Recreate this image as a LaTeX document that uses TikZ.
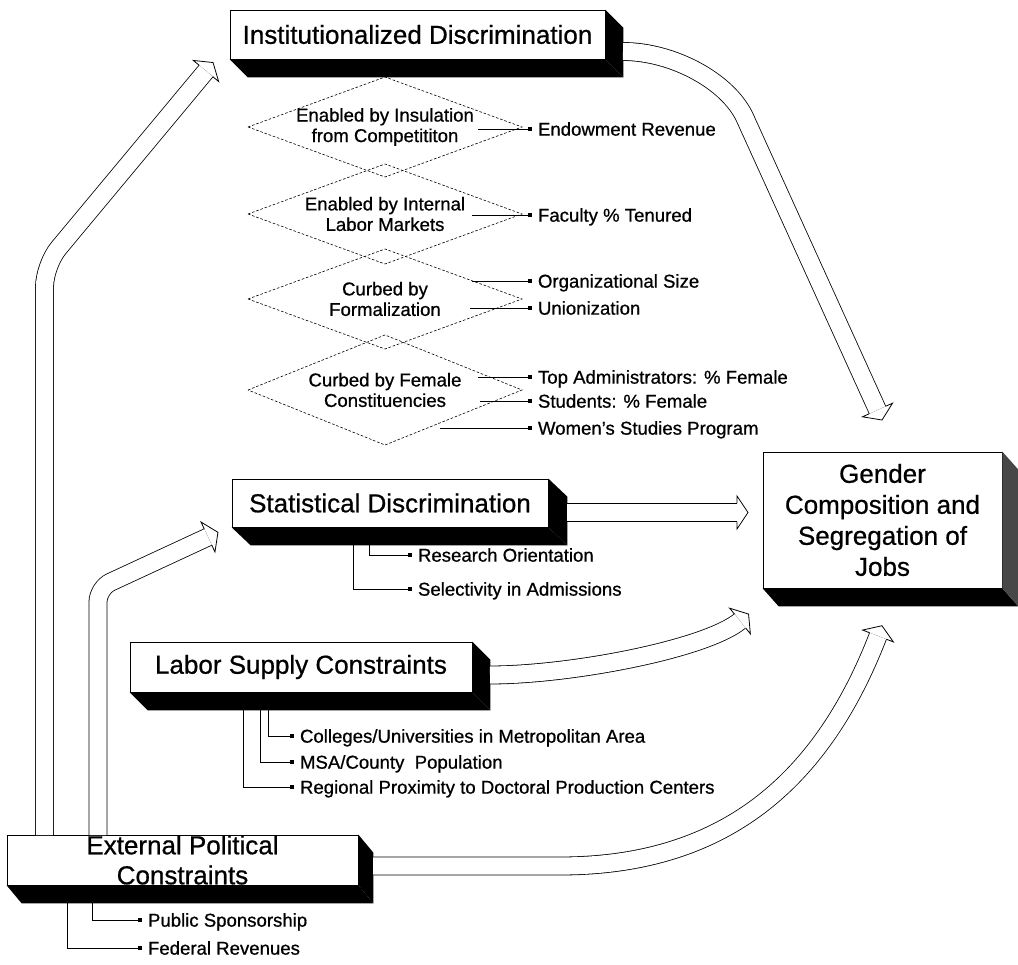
\documentclass[tikz,border=0pt]{standalone}
\usepackage{fontspec}
\setmainfont[FakeBold=0.7]{Liberation Sans}
\usetikzlibrary{calc,arrows.meta}
\newcommand\bigf{\fontsize{26}{30}\selectfont}
\newcommand\genderf{\fontsize{26}{31}\selectfont}
\newcommand\smallf{\fontsize{18.6}{20.5}\selectfont}
% hollow arrow head at coordinate #1, direction #2 (degrees, image coords)
\newcommand\hollowhead[2]{%
  \draw[arrline] ($(#1)+(#2+90:9)$) -- ($(#1)+(#2+90:16.5)$) -- ($(#1)+(#2:11)$)
     -- ($(#1)+(#2-90:16.5)$) -- ($(#1)+(#2-90:9)$);}
% 3D shadow of a box node #1 with offset (#2,#3); #4 colour of right side
\newcommand\boxshadow[4]{%
  \fill[black] (#1.south west) -- ($(#1.south west)+(#2,#3)$) -- ($(#1.south east)+(#2,#3)$)
     -- (#1.south east) -- cycle;
  \fill[#4] (#1.south east) -- ($(#1.south east)+(#2,#3)$) -- ($(#1.north east)+(#2,#3)$)
     -- (#1.north east) -- cycle;}
% dashed diamond around node #1 with half height #2
\newcommand\diamondaround[2]{%
  \draw[dashline] ($(#1.center)+(-137,0)$) -- ($(#1.center)+(0,-#2)$) -- ($(#1.center)+(137,0)$)
     -- ($(#1.center)+(0,#2)$) -- cycle;}
\begin{document}
\begin{tikzpicture}[x=1pt,y=-1pt,
  boxf/.style={draw, fill=white, line width=0.7pt, inner sep=0pt},
  boxtext/.style={font=\bigf, align=center, inner sep=0pt},
  dtext/.style={font=\smallf, align=center, inner sep=0pt},
  lab/.style={font=\smallf, anchor=west, inner sep=0pt, outer xsep=6pt,
              text height=13.3pt, text depth=0pt},
  conn/.style={draw, line width=0.7pt, -{Square[length=3.6pt,width=3.6pt]}},
  dashline/.style={draw, line width=0.6pt, dash pattern=on 2.6pt off 1.8pt},
  shaft/.style={draw, line width=0.8pt, double, double distance=17.2pt},
  arrline/.style={draw, line width=0.8pt, line join=miter}]
\useasboundingbox (0,0) rectangle (1018,965);
\fill[white] (0,0) rectangle (1018,965);

% ---------- boxes ----------
\node[boxf, minimum width=375pt, minimum height=49pt] (inst) at (417.5,34.5) {};
\boxshadow{inst}{18}{18}{black}
\node[boxtext] (instt) at (inst.center) {Institutionalized Discrimination};

\node[boxf, minimum width=316pt, minimum height=48pt] (stat) at (390,503) {};
\boxshadow{stat}{19}{18}{black}
\node[boxtext] (statt) at (stat.center) {Statistical Discrimination};

\node[boxf, minimum width=342pt, minimum height=50pt] (labor) at (301,667) {};
\boxshadow{labor}{18}{18}{black}
\node[boxtext] (labort) at (labor.center) {Labor Supply Constraints};

\node[boxf, minimum width=351pt, minimum height=50pt] (ext) at (182.5,860) {};
\boxshadow{ext}{15}{18}{black}
\node[boxtext] (extt) at (ext.center) {External Political\\Constraints};

\node[boxf, minimum width=239pt, minimum height=136pt] (gender) at (882.5,520) {};
\boxshadow{gender}{16}{18}{black!72}
\node[boxtext, font=\genderf] (gendert) at (gender.center) {Gender\\Composition and\\Segregation of\\Jobs};

% ---------- diamonds ----------
\node[dtext] (d1) at (385,127) {Enabled by Insulation\\from Competititon};
\diamondaround{d1}{50}
\node[dtext] (d2) at (385,214) {Enabled by Internal\\Labor Markets};
\diamondaround{d2}{50}
\node[dtext] (d3) at (385,299) {Curbed by\\Formalization};
\diamondaround{d3}{50}
\node[dtext] (d4) at (385,390) {Curbed by Female\\Constituencies};
\diamondaround{d4}{55}

% ---------- diamond connectors ----------
\node[lab] (l1) at (532,129) {Endowment Revenue};
\node[lab] (l2) at (532,215) {Faculty \% Tenured};
\node[lab] (l3) at (532,281) {Organizational Size};
\node[lab] (l4) at (532,308) {Unionization};
\node[lab] (l5) at (532,377) {Top Administrators: \% Female};
\node[lab] (l6) at (532,401) {Students: \% Female};
\node[lab] (l7) at (532,428) {Women's Studies Program};
\coordinate (c1) at (478,129);
\coordinate (c2) at (472,215);
\coordinate (c3) at (472,281);
\coordinate (c4) at (470,308);
\coordinate (c5) at (478,377);
\coordinate (c6) at (480,401);
\coordinate (c7) at (440,428);
\foreach \i in {1,...,7} {\draw[conn] (c\i) -- (l\i.west);}

% ---------- statistical connectors ----------
\node[lab] (ls1) at (412,555) {Research Orientation};
\node[lab] (ls2) at (412,589) {Selectivity in Admissions};
\coordinate (s1) at (369,545);
\coordinate (s2) at (353,545);
\draw[conn] (s1) |- (ls1.west);
\draw[conn] (s2) |- (ls2.west);

% ---------- labor connectors ----------
\node[lab] (ll1) at (294,736) {Colleges/Universities in Metropolitan Area};
\node[lab] (ll2) at (294,762) {MSA/County\ \ Population};
\node[lab] (ll3) at (294,787) {Regional Proximity to Doctoral Production Centers};
\coordinate (b1) at (268,710);
\coordinate (b2) at (260,710);
\coordinate (b3) at (243,710);
\draw[conn] (b1) |- (ll1.west);
\draw[conn] (b2) |- (ll2.west);
\draw[conn] (b3) |- (ll3.west);

% ---------- external connectors ----------
\node[lab] (le1) at (142,920) {Public Sponsorship};
\node[lab] (le2) at (142,948) {Federal Revenues};
\coordinate (e1) at (92,903);
\coordinate (e2) at (67,903);
\draw[conn] (e1) |- (le1.west);
\draw[conn] (e2) |- (le2.west);

% ---------- block arrows ----------
\coordinate (a1s) at (44.5,835);  \coordinate (a1e) at (206,71);
\draw[shaft, rounded corners=22pt] (a1s) -- (44.5,265) -- (a1e);
\hollowhead{a1e}{-50.2}

\coordinate (a2s) at (98,835);  \coordinate (a2e) at (208,537);
\draw[shaft, rounded corners=14pt] (a2s) -- (98,588) -- (a2e);
\hollowhead{a2e}{-24.9}

\coordinate (a3s) at (623,51.5);  \coordinate (a3e) at (877.5,410);
\draw[shaft] (a3s) .. controls (673,51.5) and (728.5,81.6) .. (745,118) -- (a3e);
\hollowhead{a3e}{65.6}

\coordinate (a4s) at (567,512.5);  \coordinate (a4e) at (737,512.5);
\draw[shaft] (a4s) -- (a4e);
\hollowhead{a4e}{0}

\coordinate (a5s) at (490,675);  \coordinate (a5e) at (740,621);
\draw[shaft] (a5s) .. controls (570,675) and (705,649.3) .. (a5e);
\hollowhead{a5e}{-38.96}

\coordinate (a6s) at (373,866);  \coordinate (a6e) at (878,636);
\draw[shaft] (a6s) -- (560,866) .. controls (720,866) and (820,786) .. (a6e);
\hollowhead{a6e}{-68.86}
\end{tikzpicture}
\end{document}
